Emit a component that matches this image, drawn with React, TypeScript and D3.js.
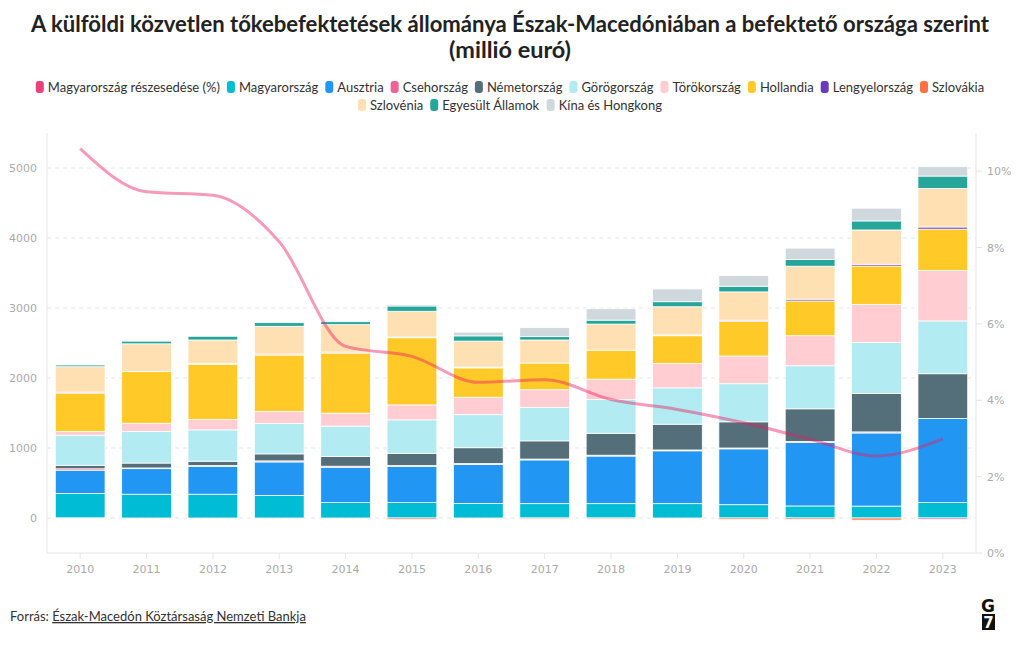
import React, { useMemo } from "react";
import * as d3 from "d3";

const years = ["2010","2011","2012","2013","2014","2015","2016","2017","2018","2019","2020","2021","2022","2023"];

const magyarorszag = [350,340,340,320,220,220,206,205,205,205,190,172,170,220];
const ausztria = [333,365,395,481,505,515,560,625,680,755,798,909,1045,1202];
const csehorszag = [20,10,15,15,15,15,12,12,12,12,12,12,15,-20];
const nemetorszag = [50,70,61,100,138,171,226,260,313,368,374,467,548,639];
const gorogorszag = [430,453,448,435,434,481,472,478,481,519,544,615,730,754];
const torokorszag = [53,115,149,172,186,214,249,252,292,349,396,429,544,720];
const hollandia = [548,738,787,805,858,959,420,382,415,396,497,497,548,592];
const lengyelorszag = [-10,0,0,0,0,10,0,0,0,0,15,25,25,30];
const szlovakia = [15,5,15,15,15,-20,10,-15,-15,12,-20,-20,-30,0];
const szlovenia = [362,392,333,396,391,368,372,329,372,402,404,471,490,551];
const egyesultAllamok = [24,38,53,51,42,76,75,48,57,72,81,95,129,177];
const kina = [0,0,0,0,0,20,53,128,162,182,152,163,182,134];

const reszesedes = [10.59,9.46,9.37,8.15,5.41,5.15,4.47,4.54,4.02,3.76,3.41,2.98,2.54,2.99];

const leftTicks = [0,1000,2000,3000,4000,5000];
const rightTicks = [0,2,4,6,8,10];

const seriesNames = ["Magyarország","Ausztria","Csehország","Németország","Görögország","Törökország","Hollandia","Lengyelország","Szlovákia","Szlovénia","Egyesült Államok","Kína és Hongkong"];
const seriesValues = [magyarorszag,ausztria,csehorszag,nemetorszag,gorogorszag,torokorszag,hollandia,lengyelorszag,szlovakia,szlovenia,egyesultAllamok,kina];
const seriesColors = ["#00bcd4","#2196f3","#f06292","#546e7a","#b2ebf2","#ffcdd2","#ffca28","#673ab7","#ff7043","#ffe0b2","#26a69a","#cfd8dc"];

const lineName = "Magyarország részesedése (%)";
const lineColor = "#e91e63";
const lineLegendColor = "#ec407a";

const W = 1020, H = 650;
const M = { left: 47, right: 976, top: 133, bottom: 553 };

export default function App() {
  const x = d3.scaleBand<string>().domain(years).range([M.left, M.right]).paddingInner(0.25).paddingOuter(0.125);
  const y = d3.scaleLinear().domain([-500, 5500]).range([M.bottom, M.top]);
  const y2 = d3.scaleLinear().domain([0, 11]).range([M.bottom, M.top]);

  const table = years.map((yr, i) => {
    const o: any = { year: yr };
    seriesNames.forEach((n, k) => (o[n] = seriesValues[k][i]));
    return o;
  });
  const stacked = d3.stack<any>().keys(seriesNames).offset(d3.stackOffsetDiverging)(table);

  const line = d3.line<number>()
    .x((_, i) => (x(years[i]) as number) + x.bandwidth() / 2)
    .y((d) => y2(d))
    .curve(d3.curveMonotoneX);

  const legendItems = [{ name: lineName, color: lineLegendColor }, ...seriesNames.map((n, k) => ({ name: n, color: seriesColors[k] }))];

  const legendLayout = useMemo(() => {
    const canvas = document.createElement("canvas");
    const ctx = canvas.getContext("2d")!;
    ctx.font = "13px Lato";
    const mw = 8, mg = 4, ig = 7, maxW = 960;
    const rows: { items: any[]; width: number }[] = [];
    let cur: any[] = [];
    let cw = 0;
    legendItems.forEach((it) => {
      const tw = ctx.measureText(it.name).width;
      const w = mw + mg + tw;
      const add = cur.length ? ig + w : w;
      if (cw + add > maxW && cur.length) {
        rows.push({ items: cur, width: cw });
        cur = [];
        cw = 0;
      }
      cur.push({ ...it, w, off: cur.length ? cw + ig : 0 });
      cw += cur.length > 1 ? ig + w : w;
    });
    if (cur.length) rows.push({ items: cur, width: cw });
    return rows;
  }, []);

  const bw = x.bandwidth();

  return (
    <svg width={W} height={H} style={{ display: "block", position: "absolute", left: 0, top: 0 }}>
      <rect width={W} height={H} fill="#fff" />
      <g fontFamily="Lato" fontWeight="bold" fill="#222" fontSize={22} textAnchor="middle">
        <text x={510} y={32} textLength={958} lengthAdjust="spacingAndGlyphs">
          A külföldi közvetlen tőkebefektetések állománya Észak-Macedóniában a befektető országa szerint
        </text>
        <text x={510} y={58} textLength={122} lengthAdjust="spacingAndGlyphs">(millió euró)</text>
      </g>

      <g fontFamily="Lato" fontSize={13} fill="#333">
        {legendLayout.map((row, ri) => {
          const x0 = W / 2 - row.width / 2;
          const cy = 87 + ri * 18;
          return row.items.map((it: any) => (
            <g key={it.name} transform={`translate(${x0 + it.off},${cy})`}>
              <rect x={0} y={-6} width={8} height={12} rx={3} fill={it.color} />
              <text x={12} y={4.5}>{it.name}</text>
            </g>
          ));
        })}
      </g>

      {/* gridlines */}
      <g>
        {leftTicks.map((t) => (
          <line key={t} x1={M.left} x2={M.right} y1={y(t)} y2={y(t)} stroke="#e6e6e6" strokeDasharray="4,4" />
        ))}
      </g>

      {/* axes lines */}
      <line x1={M.left} x2={M.left} y1={M.top} y2={M.bottom} stroke="#e6e6e6" />
      <line x1={M.right} x2={M.right} y1={M.top} y2={M.bottom} stroke="#e6e6e6" />
      <line x1={M.left} x2={M.right} y1={M.bottom} y2={M.bottom} stroke="#e6e6e6" />

      {/* bars */}
      <g>
        {stacked.map((s, k) => (
          <g key={seriesNames[k]} fill={seriesColors[k]}>
            {s.map((d, i) => {
              const h = Math.abs(y(d[0]) - y(d[1]));
              if (h <= 0) return null;
              return (
                <rect key={i} x={x(years[i])} y={Math.min(y(d[0]), y(d[1]))} width={bw} height={h} stroke="#fff" strokeWidth={0.8} />
              );
            })}
          </g>
        ))}
      </g>

      {/* line */}
      <path d={line(reszesedes) as string} fill="none" stroke={lineColor} strokeOpacity={0.45} strokeWidth={3} />

      {/* left ticks */}
      <g fontFamily="DejaVu Sans" fontSize={11} fill="#aaa">
        {leftTicks.map((t) => (
          <text key={t} x={M.left - 10} y={y(t) + 4} textAnchor="end">{t}</text>
        ))}
        {rightTicks.map((t) => (
          <g key={t}>
            <line x1={M.right} x2={M.right + 6} y1={y2(t)} y2={y2(t)} stroke="#e6e6e6" />
            <text x={M.right + 11} y={y2(t) + 4}>{t}%</text>
          </g>
        ))}
        {years.map((yr) => {
          const cx = (x(yr) as number) + bw / 2;
          return (
            <g key={yr}>
              <line x1={cx} x2={cx} y1={M.bottom} y2={M.bottom + 6} stroke="#e6e6e6" />
              <text x={cx} y={573} textAnchor="middle">{yr}</text>
            </g>
          );
        })}
      </g>

      {/* footer */}
      <text x={10} y={621} fontFamily="Lato" fontSize={13} fill="#333">
        Forrás: <tspan textDecoration="underline" style={{ textDecoration: "underline" }}>Észak-Macedón Köztársaság Nemzeti Bankja</tspan>
      </text>

      {/* logo */}
      <g transform="translate(981,598)">
        <text x={7} y={14} textAnchor="middle" fontFamily="DejaVu Sans" fontWeight="bold" fontSize={17} fill="#111">G</text>
        <rect x={1} y={16} width={13} height={16} fill="#111" />
        <text x={7.5} y={30} textAnchor="middle" fontFamily="DejaVu Sans" fontWeight="bold" fontSize={15} fill="#fff">7</text>
      </g>
    </svg>
  );
}
